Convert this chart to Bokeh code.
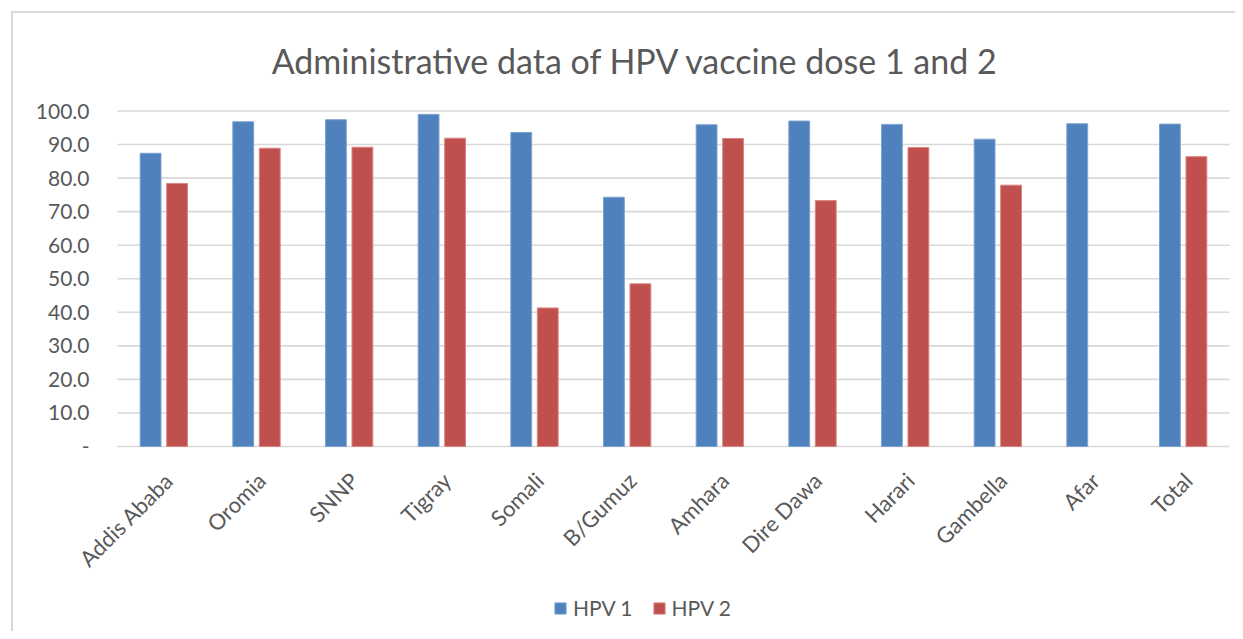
import math
from bokeh.plotting import figure
from bokeh.models import Legend, LegendItem, Range1d, ColumnDataSource, Label
from bokeh.core.properties import value
from bokeh.embed import file_html
from bokeh.resources import INLINE

# ---- data ----
regions = ["Addis Ababa", "Oromia", "SNNP", "Tigray", "Somali", "B/Gumuz",
           "Amhara", "Dire Dawa", "Harari", "Gambella", "Afar", "Total"]
hpv1 = [87.4, 96.8, 97.4, 99.0, 93.6, 74.3, 95.9, 97.0, 96.0, 91.6, 96.2, 96.1]
hpv2 = [78.4, 88.9, 89.2, 91.9, 41.3, 48.5, 91.8, 73.3, 89.1, 77.9, float("nan"), 86.4]
series_names = ["HPV 1", "HPV 2"]
y_ticks = [0, 10, 20, 30, 40, 50, 60, 70, 80, 90, 100]
y_tick_labels = ["-", "10.0", "20.0", "30.0", "40.0", "50.0", "60.0", "70.0", "80.0", "90.0", "100.0"]
title_text = "Administrative data of HPV vaccine dose 1 and 2"

BLUE = "#4F81BD"
RED = "#C0504D"
TXT = "#595959"
GRID = "#D9D9D9"
FONT = "Lato"

# ---- layout (pixels of the canvas) ----
W, H = 1235, 631
PLOT_LEFT, PLOT_RIGHT = 117, 1229          # plot area, horizontal
TOP_Y, ZERO_Y = 110.5, 446                 # pixel rows of value 100 and value 0
n = len(regions)
px_per_cat = (PLOT_RIGHT - PLOT_LEFT) / n
px_per_unit = (ZERO_Y - TOP_Y) / 100.0


def px_to_x(px):
    return (px - PLOT_LEFT) / px_per_cat


def px_to_y(py):
    return (ZERO_Y - py) / px_per_unit


centers = [i + 0.5 for i in range(n)]
DODGE, BAR_W = 0.143, 0.225

src = ColumnDataSource(dict(
    region=regions, center=centers,
    x1=[c - DODGE for c in centers], x2=[c + DODGE for c in centers],
    hpv1=hpv1, hpv2=hpv2))
tick_src = ColumnDataSource(dict(y=y_ticks, label=y_tick_labels))

chart_border = {
    "background-image": "linear-gradient(#D9D9D9, #D9D9D9), linear-gradient(#D9D9D9, #D9D9D9)",
    "background-size": "2px 100%, 100% 2px",
    "background-position": "11px 11px, 11px 11px",
    "background-repeat": "no-repeat",
}

p = figure(width=W, height=H,
           x_range=Range1d(px_to_x(0), px_to_x(W)), y_range=Range1d(px_to_y(H), px_to_y(0)),
           output_backend="svg", toolbar_location=None,
           min_border_left=0, min_border_right=0, min_border_top=0, min_border_bottom=0,
           styles=chart_border)
p.title = None
p.xaxis.visible = False
p.yaxis.visible = False
p.xgrid.visible = False
p.ygrid.visible = False
p.outline_line_color = None
p.border_fill_color = None
p.background_fill_color = None

# horizontal gridlines (incl. baseline) across the plot area
p.segment(x0=0, x1=n, y0="y", y1="y", source=tick_src, line_color=GRID, line_width=1.6)

# bars
r1 = p.vbar(x="x1", top="hpv1", width=BAR_W, source=src,
            fill_color=BLUE, line_color="#7EA3D1", line_width=1)
r2 = p.vbar(x="x2", top="hpv2", width=BAR_W, source=src,
            fill_color=RED, line_color="#D98683", line_width=1)

# y tick labels
p.text(x=0, y="y", text="label", source=tick_src, x_offset=-28,
       text_align="right", text_baseline="middle",
       text_font=value(FONT), text_font_size="21px", text_color=TXT)

# category labels, rotated
p.text(x="center", y=0, text="region", source=src, angle=math.pi / 4,
       text_align="right", text_baseline="middle", x_offset=5, y_offset=30,
       text_font=value(FONT), text_font_size="22px", text_color=TXT)

# title
p.add_layout(Label(x=px_to_x(635), y=px_to_y(60), text=title_text,
                   text_align="center", text_baseline="alphabetic",
                   text_font=FONT, text_font_size="34px", text_color=TXT))

# legend
legend = Legend(items=[LegendItem(label=series_names[0], renderers=[r1]),
                       LegendItem(label=series_names[1], renderers=[r2])],
                orientation="horizontal", location=(553, 11),
                border_line_color=None, background_fill_alpha=0,
                glyph_width=14, glyph_height=14, label_standoff=6, spacing=19,
                padding=0, margin=0,
                label_text_font=FONT, label_text_font_size="21px", label_text_color=TXT)
p.add_layout(legend, "center")

open("out.html", "w").write(file_html(p, INLINE))
